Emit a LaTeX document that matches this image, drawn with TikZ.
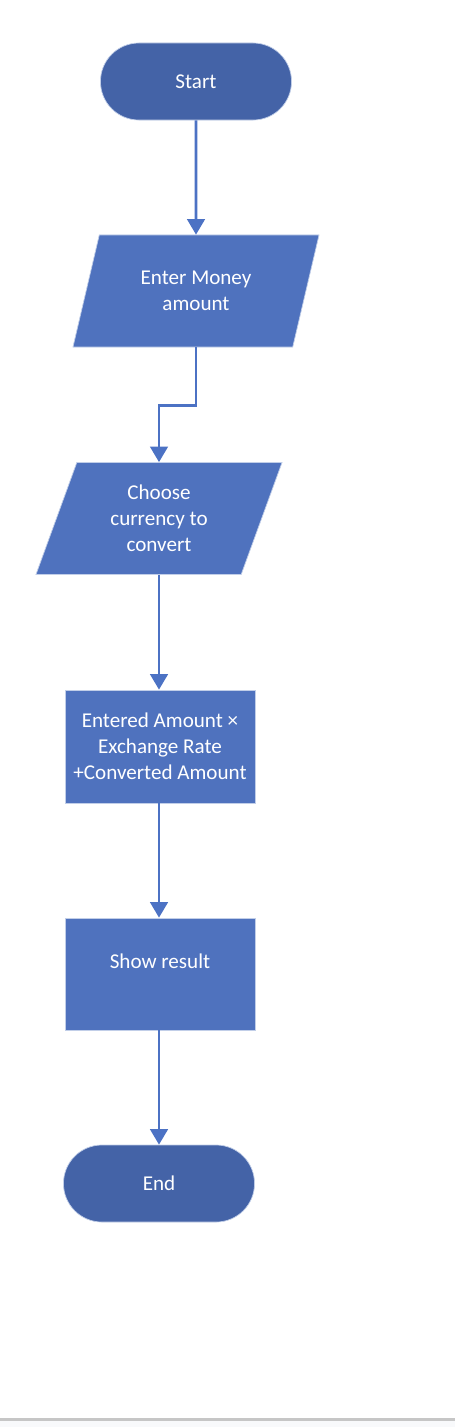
\documentclass[tikz,border=0pt]{standalone}
\usepackage{fontspec}
\setmainfont{Carlito}
\usepackage{xcolor}
\usepackage{tikz}
\usetikzlibrary{shapes.geometric}
\usetikzlibrary{arrows.meta}
\definecolor{stepblue}{RGB}{79, 114, 190}
\definecolor{termblue}{RGB}{68, 99, 167}
\definecolor{lineblue}{RGB}{76, 114, 196}
\definecolor{footgray}{RGB}{198, 198, 198}
\definecolor{footfill}{RGB}{248, 249, 251}

\begin{document}
\begin{tikzpicture}[x=0.025cm, y=-0.025cm,
        box/.style = {draw=white!65!stepblue, line width=0.5pt, text=white, align=center, font=\fontsize{15}{18.5}\selectfont},
        term/.style = {box, fill=termblue, rounded corners=0.96cm, minimum width=4.775cm, minimum height=1.925cm},
        io/.style = {box, fill=stepblue, trapezium, trapezium left angle=61.8, trapezium right angle=118.2, trapezium stretches body, minimum width=6.15cm, minimum height=2.8cm},
        proc/.style = {box, fill=stepblue, rectangle, minimum width=4.75cm, minimum height=2.8cm},
        flow/.style = {-{Triangle[width=12.5pt, length=11pt]}, lineblue, line width=1.8pt}]
        \useasboundingbox (0,0) rectangle (455,1427);
        \fill[footfill] (0,1420) rectangle (455,1427);
        \draw[footgray, line width=1.5pt] (0,1419.5) -- (455,1419.5);
        \node[term] (start) at (196, 81.5) {Start};
        \node[io] (enter) at (196, 291) {Enter Money\\amount};
        \node[io] (choose) at (159, 518.5) {Choose\\currency to\\convert};
        \node[proc, minimum height=2.825cm] (calc) at (160, 746.5) {Entered Amount ×\\Exchange Rate\\+Converted Amount};
        \node[proc] (show) at (160, 974) {Show result\\~};
        \node[term] (end) at (159, 1183.5) {End};
        \draw[flow] (start) -- (enter);
        \draw[flow] (enter.south) -- ++(0,58) -| (choose.north);
        \draw[flow] (choose.south) -- (choose.south |- calc.north);
        \draw[flow] (calc.south -| choose.south) -- (choose.south |- show.north);
        \draw[flow] (show.south -| choose.south) -- (choose.south |- end.north);
    \end{tikzpicture}
\end{document}
